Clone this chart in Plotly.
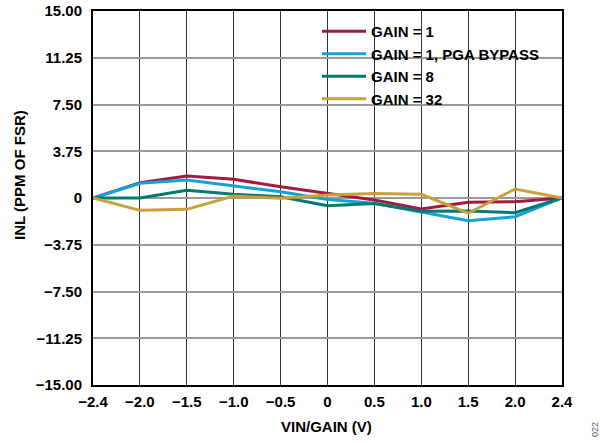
import plotly.graph_objects as go

# ---- data ----
x_labels = ["−2.4", "−2.0", "−1.5", "−1.0", "−0.5", "0", "0.5", "1.0", "1.5", "2.0", "2.4"]
gain1 = [0, 1.22, 1.77, 1.50, 0.90, 0.40, -0.16, -0.88, -0.34, -0.30, 0]
gain1_bypass = [0, 1.18, 1.45, 1.00, 0.50, -0.12, -0.43, -1.13, -1.82, -1.50, 0]
gain8 = [0, 0.0, 0.62, 0.30, 0.10, -0.62, -0.45, -1.06, -1.05, -1.18, 0]
gain32 = [0, -0.99, -0.91, 0.16, -0.03, 0.24, 0.37, 0.30, -1.22, 0.72, 0]
y_ticks = [-15, -11.25, -7.5, -3.75, 0, 3.75, 7.5, 11.25, 15]
y_ticktext = ["−15.00", "−11.25", "−7.50", "−3.75", "0", "3.75", "7.50", "11.25", "15.00"]

series = [
    ("GAIN = 1", gain1, "#A3193F"),
    ("GAIN = 1, PGA BYPASS", gain1_bypass, "#10A3DA"),
    ("GAIN = 8", gain8, "#007A70"),
    ("GAIN = 32", gain32, "#C9A03A"),
]

x_idx = list(range(len(x_labels)))

fig = go.Figure()
for name, vals, col in series:
    fig.add_trace(go.Scatter(x=x_idx, y=vals, mode="lines", name=name,
                             line=dict(color=col, width=3)))

FONT = "Liberation Sans, Arial, sans-serif"
W, H = 600, 443
PL, PR, PT, PB = 93, 562, 11, 385   # plot box in window pixels
L, R, T, B = PL, W - PR, PT, H - PB
pw, ph = PR - PL, PB - PT

def px(xv):
    return (xv - PL) / pw

def py(yv):
    return (PB - yv) / ph

fig.update_layout(
    width=W, height=H,
    margin=dict(l=L, r=R, t=T, b=B, pad=0),
    paper_bgcolor="white", plot_bgcolor="white",
    font=dict(family=FONT, size=15, color="black", weight="bold"),
    showlegend=True,
    legend=dict(x=px(317), y=py(15), xanchor="left", yanchor="top",
                bgcolor="rgba(0,0,0,0)", borderwidth=0, itemwidth=44,
                font=dict(family=FONT, size=15, color="black", weight="bold"),
                tracegroupgap=0),
    xaxis=dict(range=[0, 10], tickmode="array", tickvals=x_idx, ticktext=x_labels,
               showgrid=True, gridcolor="#333333", gridwidth=1,
               zeroline=False, showline=True, linecolor="black", linewidth=2,
               mirror=True, ticks="", fixedrange=True, automargin=False,
               ticklabelstandoff=2, ticklabeloverflow="allow",
               tickfont=dict(family=FONT, size=15, weight="bold")),
    yaxis=dict(range=[-15, 15], tickmode="array", tickvals=y_ticks, ticktext=y_ticktext,
               showgrid=True, gridcolor="#9a9a9a", gridwidth=2,
               zeroline=False, showline=True, linecolor="black", linewidth=2,
               mirror=True, ticks="", fixedrange=True, automargin=False,
               ticklabelstandoff=6, ticklabeloverflow="allow",
               tickfont=dict(family=FONT, size=15, weight="bold")),
    shapes=[dict(type="rect", xref="paper", yref="paper",
                 x0=px(312), x1=px(552), y0=py(113), y1=py(20),
                 fillcolor="white", line=dict(width=0), layer="between")],
    annotations=[
        dict(text="INL (PPM OF FSR)", xref="paper", yref="paper",
             x=px(19), y=py(175), textangle=-90, showarrow=False,
             xanchor="center", yanchor="middle",
             font=dict(family=FONT, size=15, weight="bold")),
        dict(text="VIN/GAIN (V)", xref="paper", yref="paper",
             x=px(326), y=py(426), showarrow=False,
             xanchor="center", yanchor="middle",
             font=dict(family=FONT, size=15, weight="bold")),
        dict(text="022", xref="paper", yref="paper",
             x=px(595), y=py(430), textangle=-90, showarrow=False,
             xanchor="center", yanchor="middle",
             font=dict(family=FONT, size=9, color="#555555", weight="normal")),
    ],
)

fig.write_html("out.html",
               config={"displayModeBar": False, "staticPlot": True},
               post_script="document.body.style.margin='0';document.body.style.overflow='hidden';")
